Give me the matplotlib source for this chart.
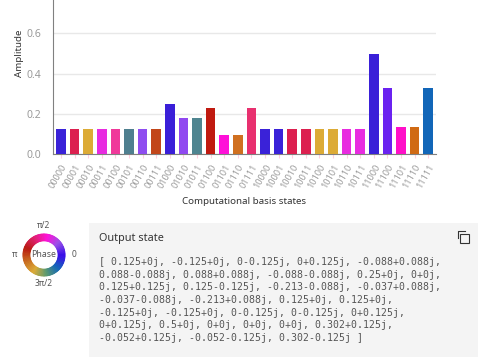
import matplotlib
matplotlib.use("Agg")
import matplotlib.pyplot as plt
from matplotlib.colors import LinearSegmentedColormap
from matplotlib.patches import Rectangle

W, H = 478, 357

states = ["00000", "00001", "00010", "00011", "00100", "00101", "00110", "00111",
          "01000", "01010", "01011", "01100", "01101", "01110", "01111",
          "10000", "10001", "10010", "10011", "10100", "10101", "10110", "10111",
          "11000", "11100", "11101", "11110", "11111"]
amps = [0.125, 0.125, 0.125, 0.125, 0.125, 0.125, 0.125, 0.125,
        0.25, 0.177, 0.177, 0.23, 0.095, 0.095, 0.23,
        0.125, 0.125, 0.125, 0.125, 0.125, 0.125, 0.125, 0.125,
        0.5, 0.327, 0.135, 0.135, 0.327]
colors = ["#3a22d8", "#dc1f4f", "#dcab36", "#e82be0", "#f0389a", "#4f7f8f", "#8e4df0", "#c2461a",
          "#3a1fd8", "#9048f0", "#4f8590", "#c01a10", "#ff10d8", "#d07020", "#e8306f",
          "#3a22d8", "#3a22d8", "#dc1f4f", "#dc1f4f", "#dcab36", "#dcab36", "#e82be0", "#e82be0",
          "#3a20d8", "#6a22f0", "#ff10c8", "#d06a14", "#1266b8"]
yticks = [0.0, 0.2, 0.4, 0.6]

# phase wheel colours, going round from 0 to 2 pi
wheel_colors = ["#3a10e8", "#9a50e8", "#ff10d8", "#e02070", "#b81a10",
                "#c86a20", "#dcab36", "#5a9a70", "#1266b8", "#3a10e8"]

output_lines = [
    "[ 0.125+0j, -0.125+0j, 0-0.125j, 0+0.125j, -0.088+0.088j,",
    "0.088-0.088j, 0.088+0.088j, -0.088-0.088j, 0.25+0j, 0+0j,",
    "0.125+0.125j, 0.125-0.125j, -0.213-0.088j, -0.037+0.088j,",
    "-0.037-0.088j, -0.213+0.088j, 0.125+0j, 0.125+0j,",
    "-0.125+0j, -0.125+0j, 0-0.125j, 0-0.125j, 0+0.125j,",
    "0+0.125j, 0.5+0j, 0+0j, 0+0j, 0+0j, 0.302+0.125j,",
    "-0.052+0.125j, -0.052-0.125j, 0.302-0.125j ]",
]

plt.rcParams["font.family"] = ["Noto Sans", "DejaVu Sans"]
fig = plt.figure(figsize=(W / 100, H / 100), dpi=100)

# helper for pixel positions measured from the top left
def px(x, y):
    return x / W, 1 - y / H

# output box
fig.patches.append(Rectangle((89 / W, 0), 1 - 89 / W, 1 - 223 / H, transform=fig.transFigure,
                             facecolor="#f4f4f4", edgecolor="none"))

# bar chart
ax = fig.add_axes([52.5 / W, 1 - 154 / H, (436 - 52.5) / W, 154 / H])
ax.bar(states, amps, width=0.71, color=colors, zorder=3)
ax.set_xlim(-0.62, 27.57)
ax.set_ylim(0, 154 / 201)
ax.set_yticks(yticks)
ax.set_yticklabels(["%.1f" % t for t in yticks], color="#9a9a9a", fontsize=7.5)
ax.grid(axis="y", color="#e8e8e8", linewidth=1, zorder=0)
ax.spines["top"].set_visible(False)
ax.spines["right"].set_visible(False)
ax.spines["left"].set_color("#808080")
ax.spines["bottom"].set_color("#808080")
ax.tick_params(axis="y", length=0, pad=8)
ax.tick_params(axis="x", length=3, color="#ffd0e0", pad=3)
ax.set_xticks(range(len(states)))
ax.set_xticklabels(states, rotation=60, ha="right", rotation_mode="anchor",
                   color="#9a9a9a", fontsize=6.5)
fig.text(*px(19, 53), "Amplitude", rotation=90, ha="center", va="center", fontsize=7, color="#333333")
fig.text(*px(244, 202), "Computational basis states", ha="center", va="center", fontsize=7, color="#333333")

# phase wheel
wheel_ax = fig.add_axes([22.5 / W, 1 - 276.5 / H, 43 / W, 43 / H])
cmap = LinearSegmentedColormap.from_list("phase", wheel_colors)
slices = [1] * 90
wedges, _ = wheel_ax.pie(slices, colors=[cmap(i / 89) for i in range(90)], radius=1, startangle=0,
                         counterclock=True, wedgeprops={"width": 0.33})
for w in wedges:
    # same colour edge hides the seams between slices
    w.set_edgecolor(w.get_facecolor())
    w.set_linewidth(0.6)
wheel_ax.set_xlim(-1.02, 1.02)
wheel_ax.set_ylim(-1.02, 1.02)
fig.text(*px(44, 254.5), "Phase", ha="center", va="center", fontsize=6.3, color="#555555")
fig.text(*px(44, 225.5), "\u03c0/2", ha="center", va="center", fontsize=6, color="#555555")
fig.text(*px(44, 284), "3\u03c0/2", ha="center", va="center", fontsize=6, color="#555555")
fig.text(*px(14.5, 254.5), "\u03c0", ha="center", va="center", fontsize=6, color="#555555")
fig.text(*px(73.5, 254.5), "0", ha="center", va="center", fontsize=6, color="#555555")

# output text
fig.text(*px(99, 239), "Output state", ha="left", va="center", fontsize=7.8, color="#333333")
for i, line in enumerate(output_lines):
    fig.text(*px(99, 262 + i * 12.7), line, ha="left", va="center", fontsize=7.15,
             family="DejaVu Sans Mono", color="#555555")

# copy icon
fig.patches.append(Rectangle((460 / W, 1 - 242.5 / H), 9 / W, 8.5 / H, transform=fig.transFigure,
                             facecolor="none", edgecolor="#333333", linewidth=0.8))
fig.add_artist(plt.Line2D([457.5 / W, 457.5 / W, 465 / W],
                          [1 - 238 / H, 1 - 231 / H, 1 - 231 / H], color="#333333", linewidth=0.8))

fig.savefig("out.png", dpi=100)
